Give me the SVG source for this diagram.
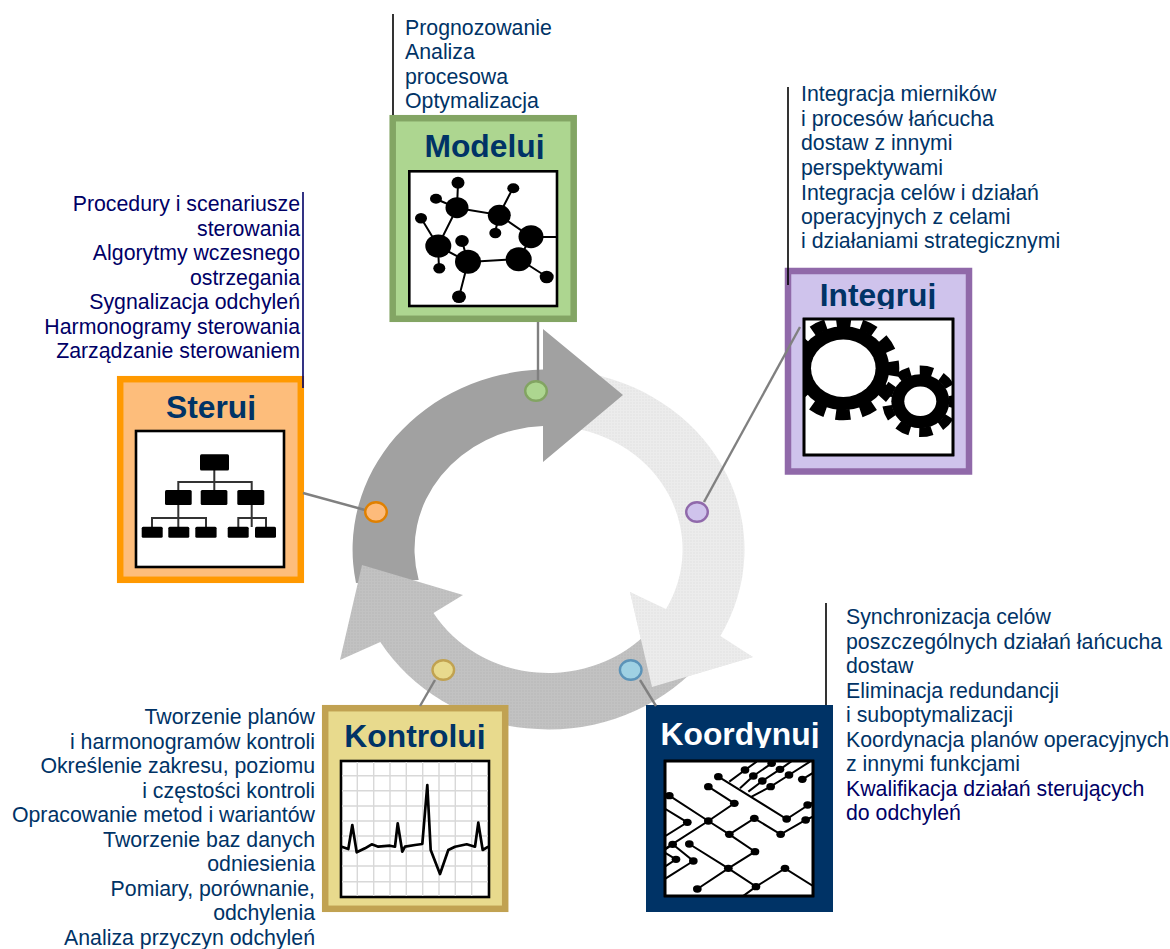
<svg xmlns="http://www.w3.org/2000/svg" width="1170" height="949" viewBox="0 0 1170 949">
<style>
text{font-family:"Liberation Sans",Arial,sans-serif}
.t{font-size:21.3px;fill:#003366}
.n{fill:#000066}
.r{text-anchor:end}
.h{font-size:31.8px;font-weight:bold;fill:#003366;text-anchor:middle}
.box{stroke-width:6.5}
.frame{fill:#fff;stroke:#000;stroke-width:2.6}
.con{stroke:#808080;stroke-width:2.4;fill:none}
.lead{stroke:#000;stroke-width:1.6;fill:none}
.dot{stroke-width:2.4}
.ink{stroke:#000;fill:none}
</style>
<defs>
<pattern id="pm" width="3" height="3" patternUnits="userSpaceOnUse"><rect width="3" height="3" fill="#c2c2c2"/><circle cx="1" cy="1" r=".7" fill="#b4b4b4"/></pattern>
<pattern id="pl" width="3" height="3" patternUnits="userSpaceOnUse"><rect width="3" height="3" fill="#ececec"/><circle cx="1" cy="1" r=".7" fill="#e0e0e0"/></pattern>
<clipPath id="c1"><rect x="400" y="120" width="170" height="39"/></clipPath>
<clipPath id="c2"><rect x="790" y="274" width="176" height="35"/></clipPath>
<clipPath id="c3"><rect x="122" y="382" width="176" height="38"/></clipPath>
<clipPath id="c4"><rect x="328" y="711" width="176" height="38"/></clipPath>
<clipPath id="c5"><rect x="650" y="711" width="176" height="37"/></clipPath>
<clipPath id="fi"><rect x="803" y="318" width="151" height="138"/></clipPath>
<clipPath id="fk"><rect x="664" y="760" width="150" height="137"/></clipPath>
</defs>

<g id="cycle">
<path d="M590,373.6 A196 180 0 0 1 720.4,636 L753,657 L652,687 L630,592 L666,609 A134 123.5 0 0 0 570,427.6 Z" fill="url(#pl)"/>
<path d="M356,583 A196 180 0 0 1 543,369.5 L543,329 L623,395 L543,462 L543,426 A134 123.5 0 0 0 418.7,580 Z" fill="#a1a1a1"/>
<path d="M690,674 A196 180 0 0 1 380.3,642 L340,660 L362,565 L463,595 L433.5,613 A134 123.5 0 0 0 650,630 Z" fill="url(#pm)"/>
<path d="M630,592 L753,657 L652,687 Z" fill="url(#pl)"/>
</g>

<g id="modeluj">
<rect class="box" x="392.7" y="118.2" width="181" height="200.6" fill="#add690" stroke="#83a564"/>
<text class="h" x="484.5" y="156.7" clip-path="url(#c1)">Modeluj</text>
<rect class="frame" x="409.3" y="171.3" width="147.7" height="134.7"/>
<path class="ink" stroke-width="2" d="M458,183L457,208L436,199M457,208L499,215L513,188M499,215L495,233M499,215L531,237H557M457,208L438,246L421,218M438,246L439,268M438,246L468,262L462,241M468,262L519,259L531,237M519,259L547,277M468,262L459,297"/>
<g fill="#000">
<ellipse cx="457" cy="207.7" rx="11.5" ry="10.5"/><ellipse cx="499.3" cy="215.3" rx="11.5" ry="10.5"/><ellipse cx="531" cy="236.7" rx="12.5" ry="11.5"/><ellipse cx="438.3" cy="246" rx="13" ry="11.5"/><ellipse cx="468" cy="261.7" rx="13" ry="12"/><ellipse cx="518.7" cy="259.3" rx="13" ry="12"/>
<ellipse cx="458" cy="182.7" rx="6.5" ry="6"/><ellipse cx="436" cy="198.7" rx="6" ry="5"/><ellipse cx="513.3" cy="188.3" rx="6" ry="5"/><ellipse cx="421" cy="218.3" rx="6" ry="5.2"/><ellipse cx="495.3" cy="233" rx="6" ry="5.2"/><ellipse cx="462" cy="241" rx="6.8" ry="6"/><ellipse cx="439.3" cy="268.3" rx="6" ry="5.2"/><ellipse cx="546.7" cy="277" rx="7" ry="6.3"/><ellipse cx="459" cy="296.7" rx="7" ry="6.3"/>
</g>
<text class="t"><tspan x="405" y="34.5">Prognozowanie</tspan><tspan x="405" y="59">Analiza</tspan><tspan x="405" y="83.5">procesowa</tspan><tspan x="405" y="107.5">Optymalizacja</tspan></text>
</g>

<g id="integruj">
<rect class="box" x="788" y="271" width="181" height="200.5" fill="#cfc3ec" stroke="#9069a9"/>
<text class="h" x="878" y="306" clip-path="url(#c2)">Integruj</text>
<rect class="frame" x="804" y="319" width="149" height="136"/>
<g clip-path="url(#fi)">
<ellipse cx="843.3" cy="368.3" rx="46" ry="42" fill="#000"/>
<ellipse cx="843.3" cy="368.3" rx="50.5" ry="46.5" fill="none" stroke="#000" stroke-width="11" pathLength="24" stroke-dasharray="1.15 .85" stroke-dashoffset=".55"/>
<ellipse cx="843.3" cy="368.3" rx="32.3" ry="28.7" fill="#fff"/>
<ellipse cx="920.3" cy="401.3" rx="29" ry="27" fill="#000"/>
<ellipse cx="920.3" cy="401.3" rx="33.5" ry="31" fill="none" stroke="#000" stroke-width="9.5" pathLength="18" stroke-dasharray="1.15 .85" stroke-dashoffset=".55"/>
<ellipse cx="920.3" cy="401.3" rx="16" ry="14.7" fill="#fff"/>
</g>
<rect class="frame" style="fill:none" x="804" y="319" width="149" height="136"/>
<text class="t"><tspan x="801" y="101">Integracja mierników</tspan><tspan x="801" y="126">i procesów łańcucha</tspan><tspan x="801" y="150">dostaw z innymi</tspan><tspan x="801" y="175">perspektywami</tspan><tspan x="801" y="200">Integracja celów i działań</tspan><tspan x="801" y="224">operacyjnych z celami</tspan><tspan x="801" y="248">i działaniami strategicznymi</tspan></text>
</g>

<g id="steruj">
<rect class="box" x="120.2" y="379.2" width="180.6" height="200.6" fill="#fdbd7b" stroke="#ff9900"/>
<text class="h" x="211" y="418" clip-path="url(#c3)">Steruj</text>
<rect class="frame" x="136" y="431" width="148" height="136"/>
<path d="M214.3,470V490M178.3,490V482H251.7V490M178.3,505V527M152,527V518H206V527M251.7,505V527M238.3,527V518H266V527" stroke="#333" stroke-width="2" fill="none"/>
<g fill="#000">
<rect x="200" y="454.3" width="29" height="16.3" rx="1.5"/>
<rect x="165" y="490" width="26.7" height="15" rx="1.5"/><rect x="200.7" y="490" width="26.7" height="15" rx="1.5"/><rect x="237.3" y="490" width="27" height="15" rx="1.5"/>
<rect x="141.7" y="526.7" width="21" height="11" rx="1.5"/><rect x="168.3" y="526.7" width="21" height="11" rx="1.5"/><rect x="195.3" y="526.7" width="21.3" height="11" rx="1.5"/><rect x="227.7" y="526.7" width="21" height="11" rx="1.5"/><rect x="255" y="526.7" width="21" height="11" rx="1.5"/>
</g>
<text class="t n r"><tspan x="300" y="211">Procedury i scenariusze</tspan><tspan x="300" y="235.5">sterowania</tspan><tspan x="300" y="260">Algorytmy wczesnego</tspan><tspan x="300" y="284.5">ostrzegania</tspan><tspan x="300" y="309">Sygnalizacja odchyleń</tspan><tspan x="300" y="333.5">Harmonogramy sterowania</tspan><tspan x="300" y="358">Zarządzanie sterowaniem</tspan></text>
</g>

<g id="kontroluj">
<rect class="box" x="325.2" y="708.2" width="180" height="200.6" fill="#e8da8d" stroke="#c1a252"/>
<text class="h" x="415" y="746.7" clip-path="url(#c4)">Kontroluj</text>
<rect class="frame" x="341" y="761" width="148" height="136"/>
<path d="M357.3,762V896M373.7,762V896M390,762V896M406.3,762V896M422.7,762V896M439,762V896M455.3,762V896M471.7,762V896M342,775.7H488M342,790.7H488M342,806H488M342,821H488M342,836H488M342,851H488M342,866H488M342,881.7H488" stroke="#d8d8d8" stroke-width="1.4" fill="none"/>
<polyline class="ink" stroke-width="2.7" stroke-linejoin="round" points="341.7,846.7 348.3,849 352.3,825 356.7,852.3 365,848.3 371.7,844.3 378.3,846.7 390,845.7 395,846.7 397.7,823.3 402.3,851.7 405,846.7 415,845 422.3,844 427.3,785 430.7,850 440,874 448.3,850 455,846.7 466.7,844.3 475,846.7 478.3,822.7 482.7,850 488.3,846.7"/>
<text class="t r"><tspan x="315" y="724">Tworzenie planów</tspan><tspan x="315" y="748.5">i harmonogramów kontroli</tspan><tspan x="315" y="773">Określenie zakresu, poziomu</tspan><tspan x="315" y="797.5">i częstości kontroli</tspan><tspan x="315" y="822">Opracowanie metod i wariantów</tspan><tspan x="315" y="846.5">Tworzenie baz danych</tspan><tspan x="315" y="871">odniesienia</tspan><tspan x="315" y="895.5">Pomiary, porównanie,</tspan><tspan x="315" y="920">odchylenia</tspan><tspan x="315" y="945">Analiza przyczyn odchyleń</tspan></text>
</g>

<g id="koordynuj">
<rect x="646" y="705" width="187" height="207" fill="#003366"/>
<text class="h" style="fill:#fff" x="740" y="745" clip-path="url(#c5)">Koordynuj</text>
<rect class="frame" x="665" y="761" width="148" height="135"/>
<g clip-path="url(#fk)">
<g transform="translate(640 700) scale(.3333)">
<path class="ink" stroke-width="6" d="M235,230L440,357L505,315L530,300M205,260L283,310L205,363L70,450M88,287L205,363L268,403L345,455L265,505L172,567M268,403L343,355L422,403L497,360L530,345M148,432L265,505L348,560L435,505L530,565M348,560L300,595M70,323L142,367L70,412M98,433L160,483L70,540M70,455L108,478L70,503M98,433L70,452M268,245L315,210L350,185M300,265L340,228L395,190L410,180M325,275L367,243L420,208L460,180M335,290L392,260L447,225L510,185M487,238L525,215"/>
<g fill="#000"><ellipse cx="235" cy="230" rx="13" ry="11"/><ellipse cx="205" cy="260" rx="13" ry="11"/><ellipse cx="88" cy="287" rx="13" ry="11"/><ellipse cx="283" cy="310" rx="13" ry="11"/><ellipse cx="205" cy="363" rx="13" ry="11"/><ellipse cx="142" cy="367" rx="13" ry="11"/><ellipse cx="268" cy="403" rx="13" ry="11"/><ellipse cx="343" cy="355" rx="13" ry="11"/><ellipse cx="422" cy="403" rx="13" ry="11"/><ellipse cx="440" cy="357" rx="13" ry="11"/><ellipse cx="497" cy="360" rx="13" ry="11"/><ellipse cx="503" cy="315" rx="13" ry="11"/><ellipse cx="345" cy="455" rx="13" ry="11"/><ellipse cx="265" cy="505" rx="13" ry="11"/><ellipse cx="172" cy="567" rx="13" ry="11"/><ellipse cx="348" cy="560" rx="13" ry="11"/><ellipse cx="435" cy="505" rx="13" ry="11"/><ellipse cx="148" cy="432" rx="13" ry="11"/><ellipse cx="98" cy="433" rx="13" ry="11"/><ellipse cx="160" cy="483" rx="13" ry="11"/><ellipse cx="108" cy="478" rx="13" ry="11"/><ellipse cx="315" cy="210" rx="13" ry="11"/><ellipse cx="340" cy="228" rx="13" ry="11"/><ellipse cx="367" cy="243" rx="13" ry="11"/><ellipse cx="392" cy="260" rx="13" ry="11"/><ellipse cx="395" cy="190" rx="13" ry="11"/><ellipse cx="420" cy="208" rx="13" ry="11"/><ellipse cx="447" cy="225" rx="13" ry="11"/><ellipse cx="487" cy="238" rx="13" ry="11"/></g>
</g>
</g>
<rect class="frame" style="fill:none" x="665" y="761" width="148" height="135"/>
<text class="t"><tspan x="846" y="624">Synchronizacja celów</tspan><tspan x="846" y="648.5">poszczególnych działań łańcucha</tspan><tspan x="846" y="673">dostaw</tspan><tspan x="846" y="697.5">Eliminacja redundancji</tspan><tspan x="846" y="722">i suboptymalizacji</tspan><tspan x="846" y="746.5">Koordynacja planów operacyjnych</tspan><tspan x="846" y="771">z innymi funkcjami</tspan><tspan class="n" x="846" y="795.5">Kwalifikacja działań sterujących</tspan><tspan class="n" x="846" y="820">do odchyleń</tspan></text>
</g>

<g id="connectors">
<path class="con" d="M538,322V381"/>
<path class="con" d="M303,493L365,510"/>
<path class="con" d="M800,327L704,502"/>
<path class="con" d="M640,680L656,706"/>
<path class="con" d="M435,680L420,706"/>
<path class="lead" d="M393,14V115"/>
<path class="lead" d="M788,87V285"/>
<path class="lead" style="stroke:#000066" d="M303,192V388"/>
<path class="lead" d="M826,603V705"/>
</g>

<g id="dots">
<ellipse class="dot" cx="536" cy="391" rx="10.8" ry="9.8" fill="#add690" stroke="#82a462"/>
<ellipse class="dot" cx="376" cy="512" rx="10.8" ry="9.8" fill="#fdbb7b" stroke="#e08000"/>
<ellipse class="dot" cx="697" cy="512" rx="10.8" ry="9.8" fill="#cfc3ec" stroke="#9069ab"/>
<ellipse class="dot" cx="630.7" cy="670" rx="10.8" ry="9.8" fill="#9fd1e3" stroke="#5b93b8"/>
<ellipse class="dot" cx="443.3" cy="670" rx="10.8" ry="9.8" fill="#e8da8d" stroke="#c1a250"/>
</g>
</svg>
